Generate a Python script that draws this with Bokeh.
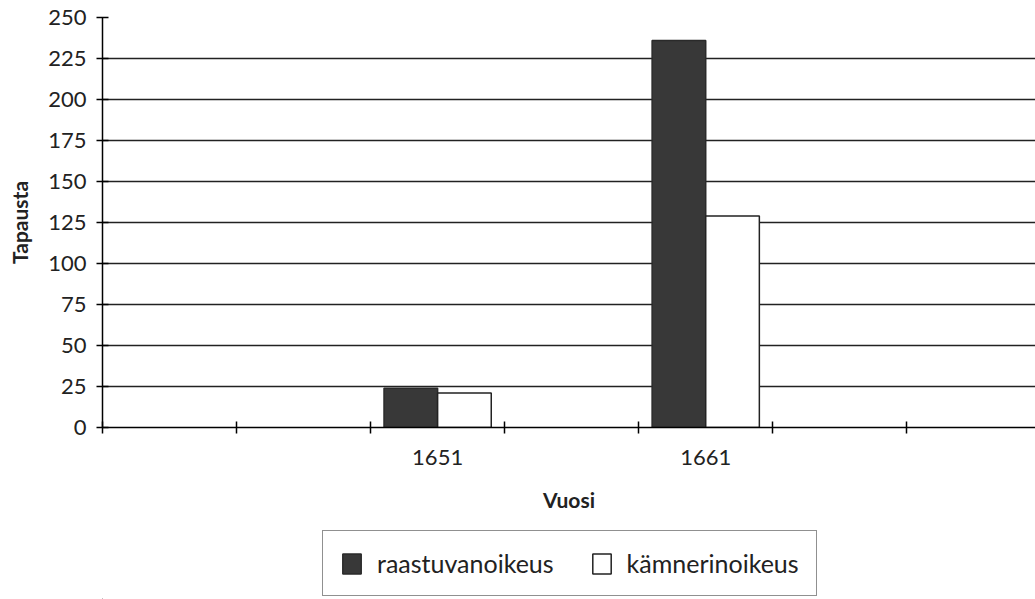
from bokeh.plotting import figure
from bokeh.layouts import column
from bokeh.models import LinearAxis, FixedTicker, Range1d, Legend, LegendItem, ColumnDataSource
from bokeh.embed import file_html
from bokeh.resources import INLINE

# ---- data ----
slot_labels = ["", "", "1651", "", "1661", "", ""]
years = ["1651", "1661"]
raastuvanoikeus = [24, 236]
kamnerinoikeus = [21, 129]
series_names = ["raastuvanoikeus", "kämnerinoikeus"]
y_ticks = [0, 25, 50, 75, 100, 125, 150, 175, 200, 225, 250]

FONT = "Lato"
DARK = "#383838"
INK = "#222222"

idx = [slot_labels.index(y) for y in years]
src = ColumnDataSource(dict(
    x1=[i + 0.3 for i in idx], x2=[i + 0.7 for i in idx],
    r=raastuvanoikeus, k=kamnerinoikeus))

p = figure(width=1035, height=529, output_backend="svg", toolbar_location=None,
           x_range=Range1d(0, 6.96), y_range=Range1d(0, 250),
           x_axis_location=None, y_axis_location=None,
           min_border_left=102, min_border_right=0, min_border_top=17, min_border_bottom=102)
p.outline_line_color = None
p.background_fill_color = "white"
p.border_fill_color = "white"

yaxis = LinearAxis(ticker=FixedTicker(ticks=y_ticks), axis_label="Tapausta")
yaxis.axis_line_width = 1.5
yaxis.axis_line_color = "black"
yaxis.major_tick_line_color = "black"
yaxis.major_tick_line_width = 1.5
yaxis.major_tick_in = 6
yaxis.major_tick_out = 6
yaxis.minor_tick_line_color = None
yaxis.major_label_text_font = FONT
yaxis.major_label_text_font_size = "22px"
yaxis.major_label_text_color = INK
yaxis.major_label_standoff = 10
yaxis.axis_label_text_font = FONT
yaxis.axis_label_text_font_style = "bold"
yaxis.axis_label_text_font_size = "21px"
yaxis.axis_label_text_color = INK
yaxis.axis_label_standoff = 13
p.add_layout(yaxis, "left")

xaxis = LinearAxis(ticker=FixedTicker(ticks=list(range(len(slot_labels) + 1))))
xaxis.major_label_overrides = {i: "" for i in range(len(slot_labels) + 1)}
xaxis.major_label_text_font_size = "0px"
xaxis.major_label_standoff = 0
xaxis.axis_line_width = 1.5
xaxis.axis_line_color = "black"
xaxis.major_tick_line_color = "black"
xaxis.major_tick_line_width = 1.5
xaxis.major_tick_in = 6
xaxis.major_tick_out = 6
xaxis.minor_tick_line_color = None
p.add_layout(xaxis, "below")

centers = [i + 0.5 for i, s in enumerate(slot_labels) if s]
xaxis2 = LinearAxis(ticker=FixedTicker(ticks=centers), axis_label="Vuosi")
xaxis2.major_label_overrides = {c: s for c, s in zip(centers, [s for s in slot_labels if s])}
xaxis2.axis_line_color = None
xaxis2.major_tick_line_color = None
xaxis2.minor_tick_line_color = None
xaxis2.major_tick_in = 0
xaxis2.major_tick_out = 0
xaxis2.major_label_text_font = FONT
xaxis2.major_label_text_font_size = "22px"
xaxis2.major_label_text_color = INK
xaxis2.major_label_standoff = 16
xaxis2.axis_label_text_font = FONT
xaxis2.axis_label_text_font_style = "bold"
xaxis2.axis_label_text_font_size = "21px"
xaxis2.axis_label_text_color = INK
xaxis2.axis_label_standoff = 19
p.add_layout(xaxis2, "below")

p.xgrid.grid_line_color = None
p.ygrid.ticker = FixedTicker(ticks=y_ticks)
p.ygrid.grid_line_color = INK
p.ygrid.grid_line_width = 1.5

p.vbar(x="x1", top="r", width=0.4, bottom=0, source=src,
       fill_color=DARK, line_color="#2a2a2a", line_width=1.5)
p.vbar(x="x2", top="k", width=0.4, bottom=0, source=src,
       fill_color="white", line_color=INK, line_width=1.5)

# ---- legend strip below the chart (proxy bars lie outside its visible ranges) ----
p2 = figure(width=1035, height=70, output_backend="svg", toolbar_location=None,
            x_range=Range1d(1000, 1006.96), y_range=Range1d(5000, 5001),
            x_axis_location=None, y_axis_location=None,
            min_border_left=102, min_border_right=0, min_border_top=0, min_border_bottom=0)
p2.outline_line_color = None
p2.xgrid.visible = False
p2.ygrid.visible = False
lr = p2.vbar(x="x1", top="r", width=0.4, bottom=0, source=src,
             fill_color=DARK, line_color="#2a2a2a", line_width=1.5)
lk = p2.vbar(x="x2", top="k", width=0.4, bottom=0, source=src,
             fill_color="white", line_color=INK, line_width=1.5)

legend = Legend(items=[LegendItem(label=series_names[0], renderers=[lr]),
                       LegendItem(label=series_names[1], renderers=[lk])],
                orientation="horizontal", location=(220, 3))
legend.glyph_width = 23
legend.glyph_height = 25
legend.label_text_font = FONT
legend.label_text_font_size = "25px"
legend.label_text_color = INK
legend.label_standoff = 14
legend.spacing = 36
legend.padding = 17
legend.margin = 0
legend.border_line_color = INK
legend.border_line_width = 1.5
legend.background_fill_alpha = 1
p2.add_layout(legend, "center")

layout = column(p, p2, spacing=0)
open("out.html", "w").write(file_html(layout, INLINE))
